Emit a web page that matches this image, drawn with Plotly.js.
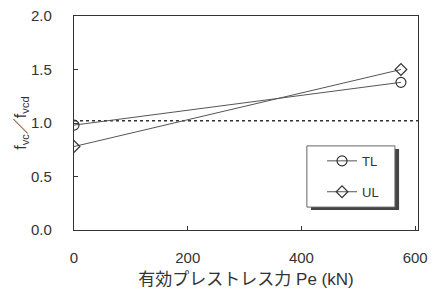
<!DOCTYPE html>
<html><head><meta charset="utf-8">
<script src="https://cdn.plot.ly/plotly-3.0.1.min.js"></script>
<style>html,body{margin:0;padding:0;background:#fff}</style>
</head><body>
<div id="chart" style="width:438px;height:289px"></div>
<script>
const prestress = [0, 575];
const tlValues = [0.98, 1.38];
const ulValues = [0.78, 1.50];
const refX = [0, 605];
const refY = [1.02, 1.02];
const xTicks = [0, 200, 400, 600];
const yTicks = [0.0, 0.5, 1.0, 1.5, 2.0];

const ink = '#333';
const fam = "'Liberation Sans', Arial, 'Noto Sans CJK JP', sans-serif";
const traces = [
  {x: refX, y: refY, mode: 'lines', line: {color: ink, width: 1.5, dash: 'dot'}, showlegend: false, hoverinfo: 'skip'},
  {x: prestress, y: tlValues, name: 'TL', mode: 'lines+markers', legendgroup: 'a',
   line: {color: '#555', width: 1}, marker: {symbol: 'circle-open', size: 10, color: ink, line: {width: 1.2}}},
  {x: prestress, y: ulValues, name: 'UL', mode: 'lines+markers', legendgroup: 'b',
   line: {color: '#555', width: 1}, marker: {symbol: 'diamond-open', size: 9, color: ink, line: {width: 1.2}}}
];
const layout = {
  width: 438, height: 289,
  margin: {l: 74, r: 20, t: 16, b: 59},
  paper_bgcolor: '#fff', plot_bgcolor: '#fff',
  font: {family: fam, color: ink, size: 15},
  xaxis: {range: [0, 605], tickvals: xTicks, ticks: 'inside', ticklen: 4, tickcolor: ink,
    showline: true, linecolor: ink, linewidth: 1.2, mirror: true, showgrid: false, zeroline: false,
    tickfont: {size: 15}, ticklabelstandoff: 14,
    title: {text: '有効プレストレス力 Pe (kN)', font: {size: 17, family: fam}, standoff: 9}},
  yaxis: {range: [0, 2.0], tickvals: yTicks, tickformat: '.1f', ticks: 'inside', ticklen: 4, tickcolor: ink,
    showline: true, linecolor: ink, linewidth: 1.2, mirror: true, showgrid: false, zeroline: false,
    tickfont: {size: 15}, ticklabelstandoff: 18,
    title: {text: 'f<sub>vc</sub>／f<sub>vcd</sub>', font: {size: 16}, standoff: 0}},
  legend: {x: 0.721, y: 0.393, xanchor: 'left', yanchor: 'top', bgcolor: 'rgba(0,0,0,0)',
    borderwidth: 0, font: {size: 13}, tracegroupgap: 11, traceorder: 'grouped',
    itemwidth: 30},
  shapes: [
    {type: 'rect', xref: 'paper', yref: 'paper', x0: 0.689, x1: 0.945, y0: 0.093, y1: 0.379,
     fillcolor: '#444', line: {width: 0}, layer: 'above'},
    {type: 'rect', xref: 'paper', yref: 'paper', x0: 0.677, x1: 0.933, y0: 0.107, y1: 0.393,
     fillcolor: '#fff', line: {width: 1, color: '#666'}, layer: 'above'}
  ],
  showlegend: true
};
Plotly.newPlot('chart', traces, layout, {staticPlot: true, displayModeBar: false});
</script>
</body></html>
